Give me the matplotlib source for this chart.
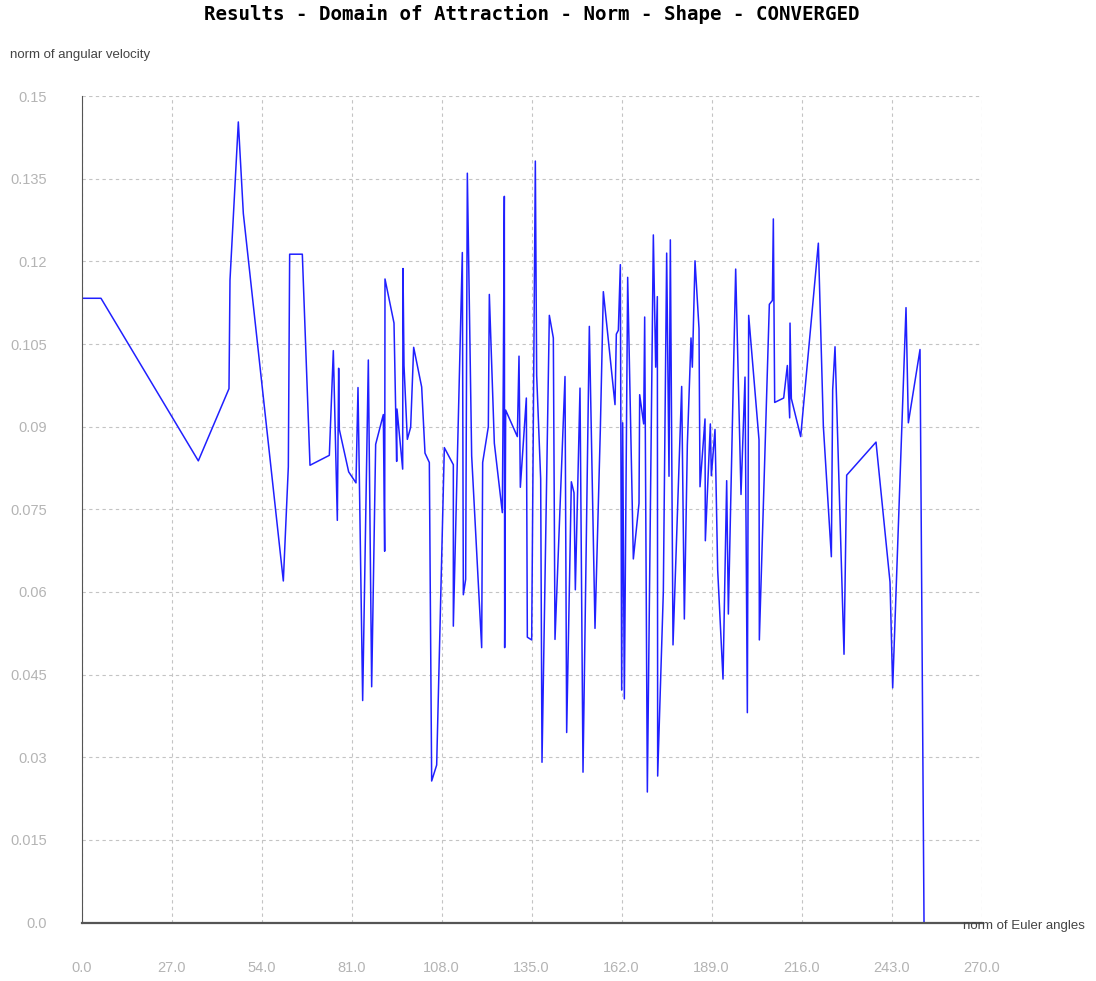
import matplotlib
matplotlib.use("Agg")
import matplotlib.pyplot as plt

# norm of Euler angles (x) and norm of angular velocity (y)
euler_norm = [
    0.0, 5.8, 35.0, 44.2, 44.5, 47.0, 48.5, 60.5, 62.0, 62.4,
    66.2, 68.5, 74.3, 75.5, 76.7, 77.1, 77.3, 80.1, 82.3, 82.9,
    84.3, 86.0, 87.0, 88.2, 90.5, 90.9, 91.0, 93.7, 94.5, 94.6,
    96.3, 96.4, 96.7, 97.7, 98.7, 99.6, 102.0, 103.0, 104.3, 105.0,
    106.5, 108.8, 111.5, 111.5, 114.2, 114.5, 115.2, 115.7, 117.0, 120.0,
    120.3, 122.0, 122.3, 123.8, 126.2, 126.5, 126.8, 126.9, 127.2, 130.7,
    131.2, 131.6, 133.4, 133.7, 135.0, 136.1, 136.5, 137.7, 138.1, 140.3,
    141.5, 142.0, 145.0, 145.5, 146.9, 147.7, 148.1, 149.5, 150.4, 152.3,
    154.0, 155.6, 156.5, 160.0, 160.4, 161.0, 161.6, 162.0, 162.3, 162.8,
    163.8, 165.5, 167.2, 167.4, 168.6, 168.9, 169.7, 171.5, 172.2, 172.7,
    172.8, 174.5, 175.5, 176.2, 176.6, 177.4, 180.0, 180.8, 181.7, 182.8,
    183.2, 184.0, 185.2, 185.5, 187.0, 187.1, 188.6, 188.9, 190.0, 190.8,
    192.4, 193.5, 194.0, 196.2, 197.8, 199.0, 199.7, 200.1, 203.2, 203.3,
    206.3, 207.2, 207.5, 207.9, 210.6, 211.7, 212.4, 212.5, 212.9, 215.7,
    221.0, 222.5, 224.9, 225.3, 226.0, 228.7, 229.5, 238.3, 242.5, 243.3,
    247.3, 248.0, 251.5, 252.7,
]
angvel_norm = [
    0.1133, 0.1133, 0.0838, 0.0969, 0.1166, 0.1453, 0.1287, 0.0620, 0.0827, 0.1213,
    0.1213, 0.0830, 0.0848, 0.1038, 0.0730, 0.1006, 0.0895, 0.0818, 0.0798, 0.0971,
    0.0403, 0.1021, 0.0428, 0.0868, 0.0922, 0.0674, 0.1168, 0.1088, 0.0837, 0.0932,
    0.0823, 0.1187, 0.1011, 0.0877, 0.0899, 0.1044, 0.0972, 0.0852, 0.0835, 0.0257,
    0.0286, 0.0862, 0.0831, 0.0538, 0.1216, 0.0595, 0.0623, 0.1360, 0.0847, 0.0499,
    0.0835, 0.0900, 0.1140, 0.0870, 0.0744, 0.0998, 0.1318, 0.0499, 0.0930, 0.0882,
    0.1028, 0.0790, 0.0952, 0.0518, 0.0513, 0.1382, 0.0993, 0.0805, 0.0291, 0.1102,
    0.1061, 0.0514, 0.0991, 0.0345, 0.0800, 0.0780, 0.0604, 0.0970, 0.0273, 0.1082,
    0.0534, 0.0895, 0.1145, 0.0940, 0.1068, 0.1075, 0.1194, 0.0422, 0.0907, 0.0406,
    0.1171, 0.0660, 0.0761, 0.0958, 0.0905, 0.1099, 0.0237, 0.1248, 0.1008, 0.1136,
    0.0266, 0.0601, 0.1215, 0.0810, 0.1239, 0.0504, 0.0973, 0.0551, 0.0867, 0.1061,
    0.1008, 0.1201, 0.1078, 0.0791, 0.0914, 0.0693, 0.0905, 0.0811, 0.0895, 0.0640,
    0.0442, 0.0802, 0.0560, 0.1186, 0.0777, 0.0990, 0.0381, 0.1102, 0.0876, 0.0513,
    0.1122, 0.1129, 0.1277, 0.0944, 0.0952, 0.1011, 0.0916, 0.1088, 0.0951, 0.0882,
    0.1233, 0.0901, 0.0664, 0.0967, 0.1045, 0.0487, 0.0812, 0.0872, 0.0618, 0.0426,
    0.1116, 0.0907, 0.1040, 0.0,
]

x_ticks = [0, 27, 54, 81, 108, 135, 162, 189, 216, 243, 270]
x_labels = ["0.0", "27.0", "54.0", "81.0", "108.0", "135.0", "162.0", "189.0", "216.0", "243.0", "270.0"]
y_ticks = [0.0, 0.015, 0.03, 0.045, 0.06, 0.075, 0.09, 0.105, 0.12, 0.135, 0.15]
y_labels = ["0.0", "0.015", "0.03", "0.045", "0.06", "0.075", "0.09", "0.105", "0.12", "0.135", "0.15"]

fig = plt.figure(figsize=(10.96, 9.81), dpi=100)
ax = fig.add_axes([0.0745, 0.0595, 0.8212, 0.8426])

ax.plot(euler_norm, angvel_norm, color="#2020ff", linewidth=1.1)

ax.set_xlim(0, 270)
ax.set_ylim(0, 0.15)
ax.set_xticks(x_ticks)
ax.set_xticklabels(x_labels)
ax.set_yticks(y_ticks)
ax.set_yticklabels(y_labels)
ax.tick_params(length=0, labelsize=10.5, labelcolor="#b4b4b4")
ax.tick_params(axis="x", pad=27.5)
ax.tick_params(axis="y", pad=25)
for lab in ax.get_xticklabels() + ax.get_yticklabels():
    lab.set_family("Liberation Sans")

ax.grid(True, color="#c4c4c4", linestyle=(0, (3, 3)), linewidth=0.8)
ax.set_axisbelow(True)
for side in ["top", "right"]:
    ax.spines[side].set_visible(False)
ax.spines["left"].set_color("#555555")
ax.spines["bottom"].set_color("#555555")
ax.spines["bottom"].set_linewidth(1.6)

fig.text(531.5 / 1096, 1 - 14.5 / 981, "Results - Domain of Attraction - Norm - Shape - CONVERGED",
         ha="center", va="center", fontsize=13.8, fontweight="bold", family="DejaVu Sans Mono")
fig.text(10 / 1096, 1 - 55 / 981, "norm of angular velocity", ha="left", va="center",
         fontsize=9.5, color="#444444", family="Liberation Sans")
fig.text(963 / 1096, 1 - 926 / 981, "norm of Euler angles", ha="left", va="center",
         fontsize=9.5, color="#444444", family="Liberation Sans")

fig.savefig("out.png", dpi=100)
